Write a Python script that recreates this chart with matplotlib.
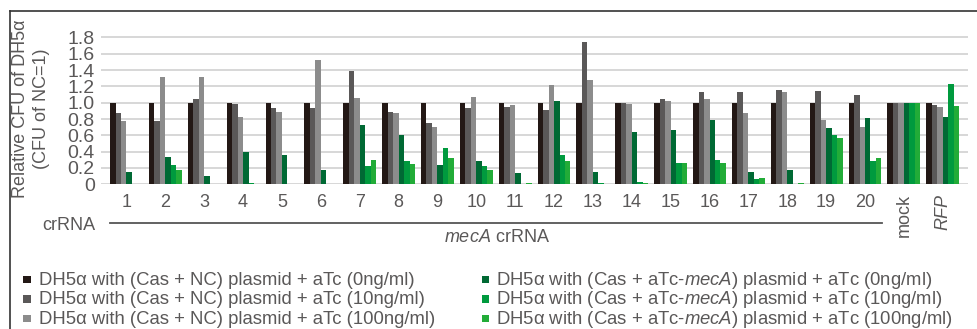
import matplotlib
matplotlib.use("Agg")
import matplotlib.pyplot as plt
from matplotlib.lines import Line2D
from matplotlib.patches import Rectangle
import numpy as np

plt.rcParams['font.family'] = ['Liberation Sans', 'DejaVu Sans']
plt.rcParams['mathtext.fontset'] = 'custom'
plt.rcParams['mathtext.rm'] = 'Liberation Sans'
plt.rcParams['mathtext.it'] = 'Liberation Sans:italic'

categories = [str(i) for i in range(1, 21)] + ['mock', 'RFP']

nc_0 = [1.0] * 22
nc_10 = [0.875, 0.78, 1.05, 0.99, 0.94, 0.94, 1.39, 0.89, 0.756, 0.94, 0.95,
         0.915, 1.74, 1.0, 1.05, 1.13, 1.13, 1.16, 1.14, 1.09, 1.0, 0.97]
nc_100 = [0.77, 1.32, 1.32, 0.82, 0.89, 1.52, 1.06, 0.875, 0.70, 1.07, 0.97,
          1.22, 1.28, 0.99, 1.02, 1.04, 0.875, 1.13, 0.785, 0.70, 1.0, 0.95]
meca_0 = [0.155, 0.33, 0.106, 0.40, 0.36, 0.18, 0.73, 0.61, 0.24, 0.29, 0.135,
          1.02, 0.147, 0.64, 0.66, 0.785, 0.155, 0.18, 0.69, 0.81, 1.0, 0.82]
meca_10 = [0.0, 0.24, 0.0, 0.016, 0.0, 0.0, 0.22, 0.29, 0.44, 0.225, 0.0,
           0.355, 0.016, 0.025, 0.26, 0.30, 0.065, 0.0, 0.60, 0.29, 1.0, 1.23]
meca_100 = [0.0, 0.18, 0.0, 0.0, 0.0, 0.0, 0.30, 0.25, 0.32, 0.18, 0.012,
            0.29, 0.0, 0.016, 0.26, 0.26, 0.078, 0.016, 0.57, 0.32, 1.0, 0.96]

series = [nc_0, nc_10, nc_100, meca_0, meca_10, meca_100]
labels = [
    'DH5α with (Cas + NC) plasmid + aTc (0ng/ml)',
    'DH5α with (Cas + NC) plasmid + aTc (10ng/ml)',
    'DH5α with (Cas + NC) plasmid + aTc (100ng/ml)',
    r'DH5α with (Cas + aTc-$\mathit{mecA}$) plasmid + aTc (0ng/ml)',
    r'DH5α with (Cas + aTc-$\mathit{mecA}$) plasmid + aTc (10ng/ml)',
    r'DH5α with (Cas + aTc-$\mathit{mecA}$) plasmid + aTc (100ng/ml)',
]
colors = ['#231815', '#5a5858', '#8c8c8c', '#006934', '#009a3e', '#22ac38']
yticks = [0, 0.2, 0.4, 0.6, 0.8, 1.0, 1.2, 1.4, 1.6, 1.8]
ytick_labels = ['0', '0.2', '0.4', '0.6', '0.8', '1.0', '1.2', '1.4', '1.6', '1.8']

W, H = 977, 329
fig = plt.figure(figsize=(W / 100, H / 100), dpi=100)
txtc = '#5a5858'

def fx(px):
    return px / W

def fy(py):
    return 1 - py / H

ax = fig.add_axes([fx(101), fy(184.3), fx(968) - fx(101), fy(29.3) - fy(184.3)])
x = np.arange(len(categories))
w = 0.141
for j, (vals, c, lab) in enumerate(zip(series, colors, labels)):
    ax.bar(x + (j - 2.5) * w, vals, width=w, color=c, zorder=3, linewidth=0, label=lab)

ax.set_xlim(-0.656, 21.65)
ax.set_ylim(0, 1.9)
ax.set_yticks(yticks)
ax.set_yticklabels(ytick_labels)
for yv in yticks:
    ax.axhline(yv, color='#d4d4d4', linewidth=1.3, zorder=1)
for s in ax.spines.values():
    s.set_visible(False)
ax.tick_params(axis='both', length=0, colors=txtc, labelsize=14)
ax.tick_params(axis='y', pad=4.5)
ax.tick_params(axis='x', pad=7, labelsize=13)
ax.set_xticks(x)
ax.set_xticklabels(categories)
tl = ax.get_xticklabels()
tl[-2].set_rotation(90)
tl[-1].set_rotation(90)
tl[-1].set_style('italic')
for t in tl[-2:]:
    t.set_va('top')

# y label
fig.text(fx(31), fy(109), 'Relative CFU of DH5α\n(CFU of NC=1)', rotation=90,
         ha='center', va='center', multialignment='center', fontsize=13,
         color=txtc, linespacing=1.3)

# crRNA annotation
fig.text(fx(42), fy(225), 'crRNA', ha='left', va='center', fontsize=13, color=txtc)
fig.add_artist(Line2D([fx(110), fx(882)], [fy(222.7), fy(222.7)], color='#555555',
                      linewidth=1.3, transform=fig.transFigure))
fig.text(fx(497), fy(237.5), r'$\mathit{mecA}$ crRNA', ha='center', va='center',
         fontsize=13, color=txtc)

# border
fig.add_artist(Line2D([fx(10), fx(977)], [fy(11), fy(11)], color='#333333',
                      linewidth=1.2, transform=fig.transFigure))
fig.add_artist(Line2D([fx(10), fx(10)], [fy(11), fy(329)], color='#333333',
                      linewidth=1.2, transform=fig.transFigure))

# legend (placed manually: two columns, three rows)
col_marker_x = [23.3, 481.5]
col_text_x = [39, 496.5]
row_baseline = [285, 304.3, 323.6]
msz = 7.3
for k, (lab, c) in enumerate(zip(labels, colors)):
    col, row = divmod(k, 3)
    bl = row_baseline[row]
    fig.add_artist(Rectangle((fx(col_marker_x[col]), fy(bl - 1.8)), msz / W, msz / H,
                             transform=fig.transFigure, facecolor=c, edgecolor='none'))
    fig.text(fx(col_text_x[col]), fy(bl), lab, ha='left', va='baseline',
             fontsize=13.3, color=txtc)

fig.savefig('out.png', dpi=100)
